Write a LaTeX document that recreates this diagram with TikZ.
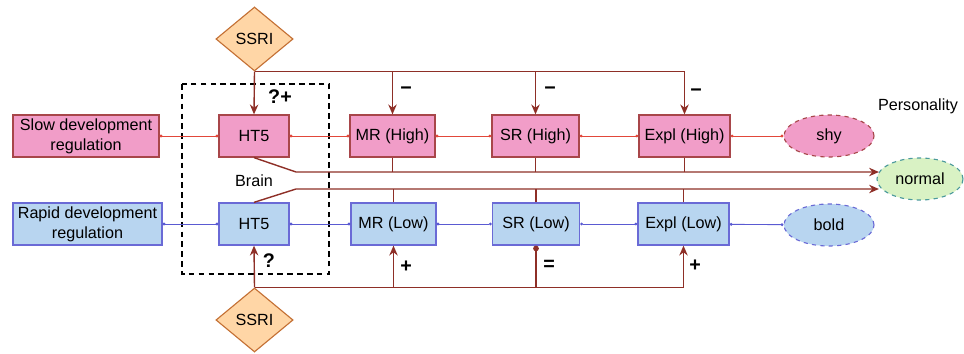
\documentclass[tikz,border=0pt]{standalone}
\usepackage{fontspec}
\setmainfont{Liberation Sans}
\usepackage{xcolor}
\definecolor{Pink}{HTML}{F19DC8}
\definecolor{PinkEdge}{HTML}{A8464A}
\definecolor{Sky}{HTML}{B8D5F0}
\definecolor{SkyEdge}{HTML}{6A6AD6}
\definecolor{Peach}{HTML}{FFD6A6}
\definecolor{PeachEdge}{HTML}{C47034}
\definecolor{Mint}{HTML}{D9F2C4}
\definecolor{MintEdge}{HTML}{4C9A9C}
\definecolor{Wine}{HTML}{8E2F27}
\definecolor{LinkRed}{HTML}{E2473A}
\definecolor{LinkBlue}{HTML}{5A5AD2}
\usepackage{tikz}
\usetikzlibrary{arrows.meta, positioning, shapes.geometric}
\tikzset{
  box/.style={
    rectangle, minimum width=#1, minimum height=1.05cm,
    align=center, inner sep=2pt, line width=0.9pt,
    font=\fontsize{11.5}{14}\selectfont
  },
  box/.default=2.2cm,
  hiBox/.style={box=#1, fill=Pink, draw=PinkEdge},
  hiBox/.default=2.2cm,
  loBox/.style={box=#1, fill=Sky, draw=SkyEdge},
  loBox/.default=2.2cm,
  trait/.style={ellipse, minimum width=2.25cm, minimum height=1.05cm,
    dashed, line width=0.8pt, font=\fontsize{11.5}{14}\selectfont},
  drug/.style={diamond, fill=Peach, draw=PeachEdge, line width=0.8pt,
    minimum width=1.93cm, minimum height=1.6cm, inner sep=0pt,
    font=\fontsize{11.5}{14}\selectfont},
  sign/.style={font=\fontsize{14}{16}\selectfont\bfseries},
  hiLink/.style={draw=LinkRed, line width=0.6pt, {Circle[length=2pt]}-{Circle[length=2pt]}},
  loLink/.style={draw=LinkBlue, line width=0.6pt, {Circle[length=2pt]}-{Circle[length=2pt]}},
  wire/.style={draw=Wine, line width=1pt},
  wArr/.style={wire, -{Stealth[length=7pt, width=6pt]}},
}
\begin{document}
\begin{tikzpicture}[x=0.025cm, y=-0.025cm]
\useasboundingbox (0,0) rectangle (964,354);

% brain frame
\draw[dash pattern=on 4pt off 3pt, line width=0.9pt] (182,84) rectangle (329,274);
\node[font=\fontsize{11.5}{14}\selectfont] (brain) at (254,181) {Brain};
\node[font=\fontsize{11.5}{14}\selectfont] (pers) at (918,106) {Personality};

% slow (high) row
\node[hiBox=3.65cm] at (86,136) (slow) {Slow development\\regulation};
\node[hiBox=1.75cm] at (254,136) (htHi) {HT5};
\node[hiBox=2.12cm] at (392.5,136) (mrHi) {MR (High)};
\node[hiBox=2.18cm] at (535.5,136) (srHi) {SR (High)};
\node[hiBox=2.28cm] at (684.5,136) (exHi) {Expl (High)};
\node[trait, fill=Pink, draw=PinkEdge] at (829,136) (shy) {shy};

% rapid (low) row
\node[loBox=3.72cm] at (87.5,224) (rapid) {Rapid development\\regulation};
\node[loBox=1.75cm] at (254,224) (htLo) {HT5};
\node[loBox=2.12cm] at (393.5,224) (mrLo) {MR (Low)};
\node[loBox=2.18cm] at (536,224) (srLo) {SR (Low)};
\node[loBox=2.28cm] at (683.5,224) (exLo) {Expl (Low)};
\node[trait, fill=Sky, draw=SkyEdge] at (829,225) (bold) {bold};

\node[trait, minimum width=2.15cm, fill=Mint, draw=MintEdge] at (920,179) (normal) {normal};

% drugs
\node[drug] at (254.5,39) (ssriTop) {SSRI};
\node[drug] at (254.5,320) (ssriBot) {SSRI};

% chains
\draw[hiLink] (slow) -- (htHi);
\draw[hiLink] (htHi) -- (mrHi);
\draw[hiLink] (mrHi) -- (srHi);
\draw[hiLink] (srHi) -- (exHi);
\draw[hiLink] (exHi) -- (shy);
\draw[loLink] (rapid) -- (htLo);
\draw[loLink] (htLo) -- (mrLo);
\draw[loLink] (mrLo) -- (srLo);
\draw[loLink] (srLo) -- (exLo);
\draw[loLink] (exLo) -- (bold);

% drug effects from above
\coordinate (topBus) at (exHi.north |- ssriTop.south);
\draw[wArr] (ssriTop.south) -- (htHi.north);
\draw[wire] (ssriTop.south) -- (topBus);
\draw[wArr] (topBus) -- (exHi.north);
\draw[wArr] (mrHi.north |- topBus) -- (mrHi.north);
\draw[wArr] (srHi.north |- topBus) -- (srHi.north);

% drug effects from below
\coordinate (botBus) at (exLo.south |- ssriBot.north);
\draw[wArr] (ssriBot.north) -- (htLo.south);
\draw[wire] (ssriBot.north) -- (botBus);
\draw[wArr] (botBus) -- (exLo.south);
\draw[wArr] (mrLo.south |- botBus) -- (mrLo.south);
\draw[wire, -{Circle[length=4pt]}] (srLo.south |- botBus) -- (srLo.south);

% towards normal
\coordinate (midHi) at (296,172);
\coordinate (midLo) at (296,189);
\draw[wArr] (htHi.south) -- (midHi) -- (midHi -| normal.170);
\draw[wArr] (htLo.north) -- (midLo) -- (midLo -| normal.190);
\foreach \b in {mrHi, srHi, exHi} \draw[wire] (\b.south) -- (\b.south |- midHi);
\foreach \b in {mrLo, srLo, exLo} \draw[wire] (\b.north) -- (\b.north |- midLo);

% signs
\node[sign] at (280,97) (sgA) {?+};
\node[sign] at (406,91) (sgB) {−};
\node[sign] at (550,91) (sgC) {−};
\node[sign] at (696,93) (sgD) {−};
\node[sign] at (269,261) (sgE) {?};
\node[sign] at (406,267) (sgF) {+};
\node[sign] at (549,265) (sgG) {=};
\node[sign] at (695,266) (sgH) {+};

\end{tikzpicture}
\end{document}
